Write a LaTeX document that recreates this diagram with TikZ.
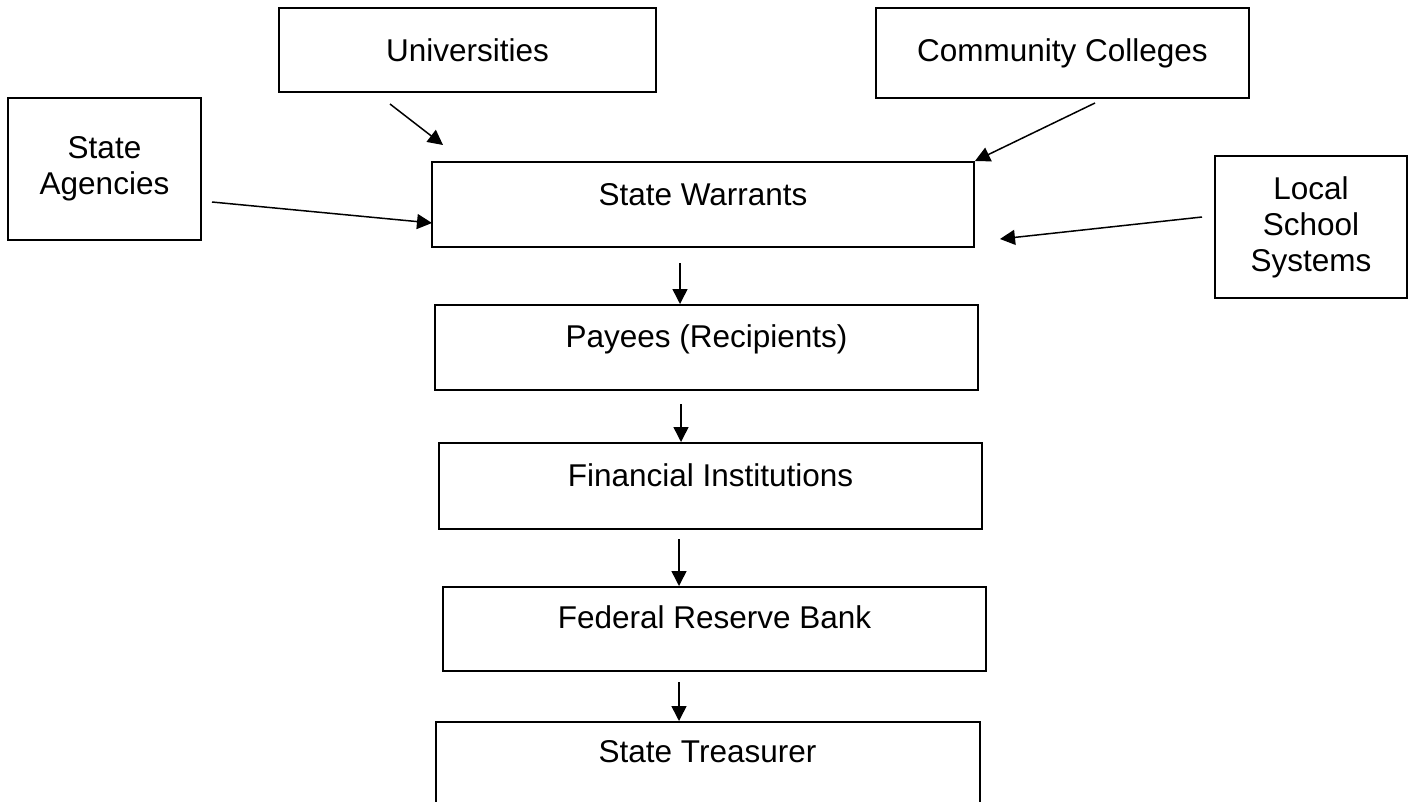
\documentclass[tikz,border=0pt]{standalone}
\usepackage{fontspec}
\setmainfont{Liberation Sans}
\usetikzlibrary{arrows.meta}
\begin{document}
\begin{tikzpicture}[x=1pt,y=-1pt,
  txt/.style={font=\fontsize{31.5}{36}\selectfont},
  box/.style={draw, line width=2pt, inner sep=0pt, align=center, txt},
  lbl/.style={anchor=base, inner sep=0pt, txt},
  arr/.style={line width=1.5pt, -{Triangle[length=15pt,width=15pt]}}]
\useasboundingbox (0,0) rectangle (1413,801);
\clip (0,0) rectangle (1413,801);
\fill[white] (0,0) rectangle (1413,801);

% sources
\node[box, minimum width=377pt, minimum height=84pt] (uni) at (467.5,50) {Universities};
\node[box, minimum width=373pt, minimum height=90pt] (cc) at (1062.5,53) {Community Colleges};
\node[box, minimum width=193pt, minimum height=142pt] (sa) at (104.5,169) {State\\Agencies};
\node[box, minimum width=192pt, minimum height=142pt] (lss) at (1311,227) {Local\\School\\Systems};

% payment chain
\node[box, minimum width=542pt, minimum height=85pt] (sw) at (703,204.5) {};
\node[lbl] (swt) at (703,205) {State Warrants};
\node[box, minimum width=543pt, minimum height=85pt] (pay) at (706.5,347.5) {};
\node[lbl] (payt) at (706.5,347.5) {Payees (Recipients)};
\node[box, minimum width=543pt, minimum height=86pt] (fin) at (710.5,486) {};
\node[lbl] (fint) at (710.5,486.5) {Financial Institutions};
\node[box, minimum width=543pt, minimum height=84pt] (fed) at (714.5,629) {};
\node[lbl] (fedt) at (714.5,628.5) {Federal Reserve Bank};
\node[box, minimum width=544pt, minimum height=150pt] (st) at (708,797) {};
\node[lbl] (stt) at (707.5,762) {State Treasurer};

% connector ends
\coordinate (uniA) at (390,104);
\coordinate (uniB) at (443,145);
\coordinate (ccA) at (1095,103);
\coordinate (saA) at (212,202);
\coordinate (saB) at (432,223);
\coordinate (lssA) at (1202,217);
\coordinate (lssB) at (1000,239);
\coordinate (d1) at (680,263);
\coordinate (d2) at (681,404);
\coordinate (d3) at (679,539);
\coordinate (d4) at (679,682);

\draw[arr] (uniA) -- (uniB);
\draw[arr] (ccA) -- (sw.north east);
\draw[arr] (saA) -- (saB);
\draw[arr] (lssA) -- (lssB);
\draw[arr] (d1) -- (d1 |- pay.north);
\draw[arr] (d2) -- (d2 |- fin.north);
\draw[arr] (d3) -- (d3 |- fed.north);
\draw[arr] (d4) -- (d4 |- st.north);
\end{tikzpicture}
\end{document}
